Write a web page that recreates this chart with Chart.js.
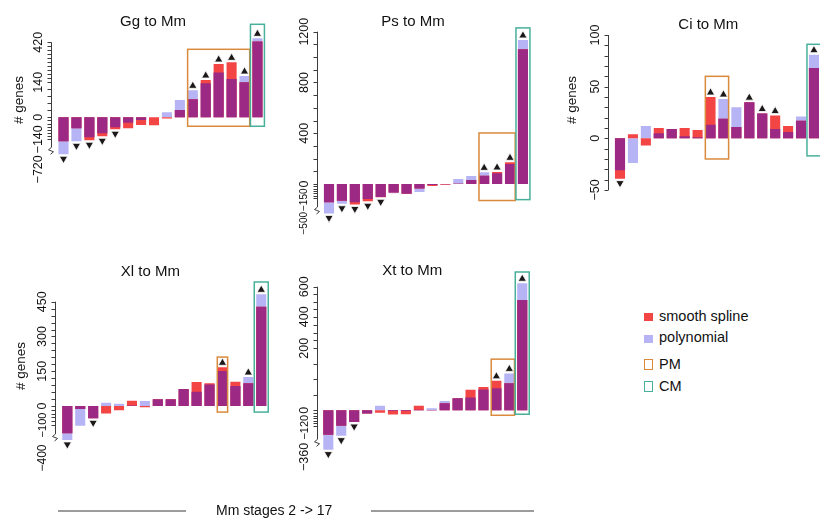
<!DOCTYPE html>
<html>
<head>
<meta charset="utf-8">
<title>Mm stages 2 -> 17</title>
<script src="https://cdn.jsdelivr.net/npm/chart.js@4.4.1/dist/chart.umd.min.js"></script>
<style>
  html, body { margin:0; padding:0; background:#fff; }
  body { width:820px; height:521px; position:relative; overflow:hidden;
         font-family:"Liberation Sans", Arial, Helvetica, sans-serif; color:#111; }
  canvas { position:absolute; }
  .lg { position:absolute; font-size:14.5px; line-height:1; white-space:nowrap; color:#111; }
  .sw { position:absolute; box-sizing:border-box; }
  .hl { position:absolute; height:2px; background:#9c9c9c; }
</style>
</head>
<body>
<canvas id="c-gg"></canvas>
<canvas id="c-ps"></canvas>
<canvas id="c-ci"></canvas>
<canvas id="c-xl"></canvas>
<canvas id="c-xt"></canvas>

<div class="sw" style="left:644px;top:313px;width:9px;height:8px;background:#F44545"></div>
<div class="lg" style="left:659px;top:308.7px">smooth spline</div>
<div class="sw" style="left:644px;top:334.5px;width:9px;height:8px;background:#B6B4F4"></div>
<div class="lg" style="left:659px;top:330px">polynomial</div>
<div class="sw" style="left:644px;top:358.5px;width:9px;height:11px;border:1.5px solid #D98A3D"></div>
<div class="lg" style="left:659px;top:356.7px">PM</div>
<div class="sw" style="left:644px;top:381px;width:9px;height:11px;border:1.5px solid #48B09A"></div>
<div class="lg" style="left:659px;top:379.4px">CM</div>

<div class="hl" style="left:58px;top:510px;width:128px"></div>
<div class="lg" style="left:216px;top:503px;font-size:14px">Mm stages 2 -&gt; 17</div>
<div class="hl" style="left:371px;top:510px;width:163px"></div>

<script>
// ---------- data ----------
const stages = ['2','3','4','5','6','7','8','9','10','11','12','13','14','15','16','17'];

// Gg to Mm
const ggSpline = [-179, -70, -159, -121, -76, -70, -49, -51, -8, 29, 72, 156, 268, 280, 140, 425];
const ggPoly   = [-430, -180, -127, -102, -64, -34, -17, 0, 20, 69, 108, 136, 208, 163, 184, 448];
const ggFlags  = [-1, -1, -1, -1, -1, 0, 0, 0, 0, 0, 1, 1, 1, 1, 1, 1];
const ggTicks  = [-720, -140, 0, 140, 420];
const ggPM = ['12', '16']; const ggPMSpan = [-57, 371];
const ggCM = ['17', '17']; const ggCMSpan = [-57, 546];

// Ps to Mm
const psSpline = [-218, -192, -253, -202, -143, -90, -105, -49, -22, -8, 2, 32, 65, 95, 171, 1061];
const psPoly   = [-396, -242, -218, -165, -140, -100, -105, -87, -12, -3, 40, 63, 92, 84, 158, 1135];
const psFlags  = [-1, -1, -1, -1, -1, 0, 0, 0, 0, 0, 0, 0, 1, 1, 1, 1];
const psTicks  = [-500, -150, 0, 400, 800, 1200];
const psPM = ['14', '16']; const psPMSpan = [-190, 402];
const psCM = ['17', '17']; const psCMSpan = [-176, 1230];

// Ci to Mm
const ciSpline = [-39, 4, -7, 10, 9, 10, 8, 40, 19, 11, 35, 24, 22, 12, 17, 68];
const ciPoly   = [-31, -24, 12, 5, 9, 2, 1, 13, 38, 30, 35, 24, 9, 6, 21, 81];
const ciFlags  = [-1, 0, 0, 0, 0, 0, 0, 1, 1, 0, 1, 1, 1, 0, 0, 1];
const ciTicks  = [-50, 0, 50, 100];
const ciPM = ['9', '10']; const ciPMSpan = [-20, 60];
const ciCM = ['17', '17']; const ciCMSpan = [-17, 91];

// Xl to Mm
const xlSpline = [-175, -16, -65, -40, -23, 23, -6, 29, 29, 73, 104, 98, 167, 105, 98, 428];
const xlPoly   = [-236, -106, -65, 14, 10, 2, 22, 29, 29, 73, 62, 93, 151, 86, 125, 482];
const xlFlags  = [-1, 0, -1, 0, 0, 0, 0, 0, 0, 0, 0, 0, 1, 0, 1, 1];
const xlTicks  = [-400, -100, 0, 150, 300, 450];
const xlPM = ['14', '14']; const xlPMSpan = [-32, 211];
const xlCM = ['17', '17']; const xlCMSpan = [-32, 535];

// Xt to Mm
const xtSpline = [-187, -118, -90, -24, -18, -32, -30, 15, 1, 23, 39, 66, 75, 95, 87, 511];
const xtPoly   = [-303, -195, -90, -24, 15, -6, -5, 2, 7, 30, 39, 41, 67, 71, 119, 623];
const xtFlags  = [-1, -1, -1, 0, 0, 0, 0, 0, 0, 0, 0, 0, 0, 1, 1, 1];
const xtTicks  = [-360, -120, 0, 200, 400, 600];
const xtPM = ['15', '16']; const xtPMSpan = [-38, 165];
const xtCM = ['17', '17']; const xtCMSpan = [-30, 698];

// broken / compressed axis definitions: [value, offset above baseline in px]
const ggAxis = [[-720, -52], [-140, -22], [0, 0], [140, 35], [420, 75]];
const psAxis = [[-500, -36], [-150, -14], [0, 0], [1200, 152.3]];
const ciAxis = [[-50, -51.7], [0, 0], [100, 103.3]];
const xlAxis = [[-400, -52], [-100, -19], [0, 0], [450, 104.3]];
const xtAxis = [[-360, -46.7], [-120, -15.7], [0, 0], [200, 62], [400, 93.6], [600, 123.6]];

// ---------- style ----------
const RED = '#F44545', LAV = '#B6B4F4', PUR = '#9C2A85', TRI = '#1C1818';
const PMC = '#D98A3D', CMC = '#48B09A';
const FONT = '"Liberation Sans", Arial, Helvetica, sans-serif';
const SLOT = 12.93;

function makeT(anch) {
  return function (v) {
    const n = anch.length;
    let i = 0;
    if (v >= anch[n - 1][0]) i = n - 2;
    else if (v > anch[0][0]) { while (v > anch[i + 1][0]) i++; }
    const r0 = anch[i][0], p0 = anch[i][1], r1 = anch[i + 1][0], p1 = anch[i + 1][1];
    return p0 + (v - r0) * (p1 - p0) / (r1 - r0);
  };
}
const fmt = v => (v < 0 ? '\u2212' + Math.abs(v) : String(v));

const panels = [
  { id: 'c-gg', title: 'Gg to Mm', s: ggSpline, p: ggPoly, f: ggFlags, ticks: ggTicks, axis: ggAxis,
    pm: ggPM, pmSpan: ggPMSpan, cm: ggCM, cmSpan: ggCMSpan,
    minor: [[0, 420, 28], [-140, 0, 20]], breakPx: -33, tickFont: 12.5, negFont: [12.5, 12.5],
    axisX: 51, x0: 63.5, baseY: 117.3, yMin: -62, yMax: 100,
    titleX: 153, titleY: 26, ylab: [19, 100] },
  { id: 'c-ps', title: 'Ps to Mm', s: psSpline, p: psPoly, f: psFlags, ticks: psTicks, axis: psAxis,
    pm: psPM, pmSpan: psPMSpan, cm: psCM, cmSpan: psCMSpan,
    minor: [[0, 1200, 100], [-150, 0, 25]], breakPx: -26, tickFont: 12.5, negFont: [10, 10],
    axisX: 316.7, x0: 329, baseY: 184, yMin: -42, yMax: 160,
    titleX: 413, titleY: 26, ylab: null },
  { id: 'c-ci', title: 'Ci to Mm', s: ciSpline, p: ciPoly, f: ciFlags, ticks: ciTicks, axis: ciAxis,
    pm: ciPM, pmSpan: ciPMSpan, cm: ciCM, cmSpan: ciCMSpan,
    minor: [[-50, 100, 10]], breakPx: null, tickFont: 12.5, negFont: [12.5],
    axisX: 608.3, x0: 620, baseY: 138.3, yMin: -58, yMax: 108,
    titleX: 708.3, titleY: 29, ylab: [572.5, 100] },
  { id: 'c-xl', title: 'Xl to Mm', s: xlSpline, p: xlPoly, f: xlFlags, ticks: xlTicks, axis: xlAxis,
    pm: xlPM, pmSpan: xlPMSpan, cm: xlCM, cmSpan: xlCMSpan,
    minor: [[0, 450, 30], [-100, 0, 20]], breakPx: -31, tickFont: 12.5, negFont: [11, 12],
    axisX: 54.5, x0: 67.3, baseY: 406, yMin: -56, yMax: 128,
    titleX: 150.3, titleY: 275.5, ylab: [21, 366] },
  { id: 'c-xt', title: 'Xt to Mm', s: xtSpline, p: xtPoly, f: xtFlags, ticks: xtTicks, axis: xtAxis,
    pm: xtPM, pmSpan: xtPMSpan, cm: xtCM, cmSpan: xtCMSpan,
    minor: [[0, 600, 50], [-120, 0, 20]], breakPx: -32, tickFont: 12.5, negFont: [11, 12.5],
    axisX: 316.7, x0: 328.3, baseY: 410.3, yMin: -52, yMax: 142,
    titleX: 412.2, titleY: 275, ylab: null }
];

function decorPlugin(P, T) {
  return {
    id: 'decor',
    afterDraw(chart) {
      const ctx = chart.ctx, ys = chart.scales.y, xs = chart.scales.x;
      const Y = v => ys.getPixelForValue(T(v));
      const Yd = d => ys.getPixelForValue(d);
      const ax = Math.round(P.axisX - P.cx) + 0.5;
      ctx.save();
      // title
      ctx.fillStyle = '#111';
      ctx.font = '15px ' + FONT;
      ctx.textAlign = 'center'; ctx.textBaseline = 'alphabetic';
      ctx.fillText(P.title, P.titleX - P.cx, P.titleY - P.cy);
      // axis line
      const top = Y(P.ticks[P.ticks.length - 1]);
      const bot = P.breakPx != null ? Yd(P.breakPx) - 3 : Y(P.ticks[0]);
      ctx.strokeStyle = '#3c3c3c'; ctx.lineWidth = 1;
      ctx.beginPath(); ctx.moveTo(ax, top); ctx.lineTo(ax, bot); ctx.stroke();
      // ticks
      const vals = new Map();
      P.minor.forEach(m => { for (let v = m[0]; v <= m[1] + 1e-9; v += m[2]) vals.set(Math.round(v * 100), v); });
      P.ticks.forEach(v => { if (P.breakPx == null || T(v) > P.breakPx) vals.set(Math.round(v * 100), v); });
      ctx.beginPath();
      vals.forEach(v => { const y = Math.round(Y(v)) + 0.5; ctx.moveTo(ax, y); ctx.lineTo(ax - 4, y); });
      ctx.stroke();
      // break mark
      if (P.breakPx != null) {
        const b = Yd(P.breakPx);
        ctx.beginPath();
        ctx.moveTo(ax, b - 3); ctx.lineTo(ax - 3, b - 0.5); ctx.lineTo(ax + 2, b + 1.5); ctx.lineTo(ax - 1, b + 4);
        ctx.stroke();
      }
      // tick labels (rotated); negative labels never overlap the one above them
      ctx.textAlign = 'center'; ctx.textBaseline = 'middle';
      const neg = P.ticks.filter(v => v < 0).sort((a, b) => b - a);
      const pos = new Map();
      P.ticks.filter(v => v >= 0).forEach(v => pos.set(v, [Y(v), P.tickFont]));
      ctx.font = P.tickFont + 'px ' + FONT;
      let bottom = Y(0) + ctx.measureText('0').width / 2;
      neg.forEach((v, k) => {
        const fs = P.negFont[Math.min(k, P.negFont.length - 1)];
        ctx.font = fs + 'px ' + FONT;
        const w = ctx.measureText(fmt(v)).width;
        const c = Math.max(Y(v), bottom + 1 + w / 2);
        pos.set(v, [c, fs]); bottom = c + w / 2;
      });
      P.ticks.forEach(v => {
        const [c, fs] = pos.get(v);
        ctx.font = fs + 'px ' + FONT;
        ctx.save(); ctx.translate(ax - 13, c); ctx.rotate(-Math.PI / 2);
        ctx.fillText(fmt(v), 0, 0); ctx.restore();
      });
      // y title
      if (P.ylab) {
        ctx.font = '13.5px ' + FONT;
        ctx.save(); ctx.translate(P.ylab[0] - P.cx, P.ylab[1] - P.cy); ctx.rotate(-Math.PI / 2);
        ctx.fillText('# genes', 0, 0); ctx.restore();
      }
      // PM / CM boxes
      const box = (rng, span, color, half) => {
        const i0 = stages.indexOf(rng[0]), i1 = stages.indexOf(rng[1]);
        const x0 = xs.getPixelForValue(i0) - half, x1 = xs.getPixelForValue(i1) + half;
        const y0 = Y(span[1]), y1 = Y(span[0]);
        ctx.strokeStyle = color; ctx.lineWidth = 1.5;
        ctx.strokeRect(x0, y0, x1 - x0, y1 - y0);
      };
      box(P.pm, P.pmSpan, PMC, SLOT * 0.4);
      box(P.cm, P.cmSpan, CMC, SLOT * 0.54);
      ctx.restore();
    }
  };
}

panels.forEach(P => {
  const T = makeT(P.axis);
  const caL = P.x0 - SLOT / 2, caR = caL + 16 * SLOT;
  const caT = P.baseY - P.yMax, caB = P.baseY - P.yMin;
  const cx = Math.max(0, Math.floor(P.axisX - 50)), cy = Math.max(0, Math.floor(caT - 28));
  const cw = Math.ceil(caR + 16 - cx), ch = Math.ceil(caB + 30 - cy);
  P.cx = cx; P.cy = cy;
  const cv = document.getElementById(P.id);
  cv.width = cw; cv.height = ch;
  cv.style.left = cx + 'px'; cv.style.top = cy + 'px';
  cv.style.width = cw + 'px'; cv.style.height = ch + 'px';

  const ov = P.s.map((a, i) => { const b = P.p[i]; return a * b > 0 ? Math.sign(a) * Math.min(Math.abs(a), Math.abs(b)) : 0; });
  const R = 4.8, GAP = 2;
  const tri = P.f.map((f, i) => {
    if (!f) return null;
    const tip = f > 0 ? Math.max(P.s[i], P.p[i], 0) : Math.min(P.s[i], P.p[i], 0);
    return T(tip) + f * (GAP + R / 2);
  });
  const barOpts = { categoryPercentage: 0.78, barPercentage: 1, borderWidth: 0 };

  new Chart(cv, {
    type: 'bar',
    data: {
      labels: stages,
      datasets: [
        Object.assign({ label: 'polynomial', data: P.p.map(T), backgroundColor: LAV, order: 3 }, barOpts),
        Object.assign({ label: 'smooth spline', data: P.s.map(T), backgroundColor: RED, order: 2 }, barOpts),
        Object.assign({ label: 'both', data: ov.map(T), backgroundColor: PUR, order: 1 }, barOpts),
        { type: 'line', label: 'flag', data: tri, showLine: false, order: 0, clip: false,
          pointStyle: 'triangle', pointRadius: R, pointHoverRadius: R,
          pointBackgroundColor: TRI, pointBorderColor: '#ffffff', pointBorderWidth: 0.8,
          pointRotation: c => (P.f[c.dataIndex] < 0 ? 180 : 0) }
      ]
    },
    options: {
      responsive: false, animation: false, events: [],
      layout: { padding: { left: caL - cx, top: caT - cy, right: cw - (caR - cx), bottom: ch - (caB - cy) } },
      plugins: { legend: { display: false }, tooltip: { enabled: false } },
      scales: {
        x: { type: 'category', stacked: true, display: false, offset: true },
        y: { type: 'linear', stacked: false, display: false, min: P.yMin, max: P.yMax }
      }
    },
    plugins: [decorPlugin(P, T)]
  });
});
</script>
</body>
</html>
